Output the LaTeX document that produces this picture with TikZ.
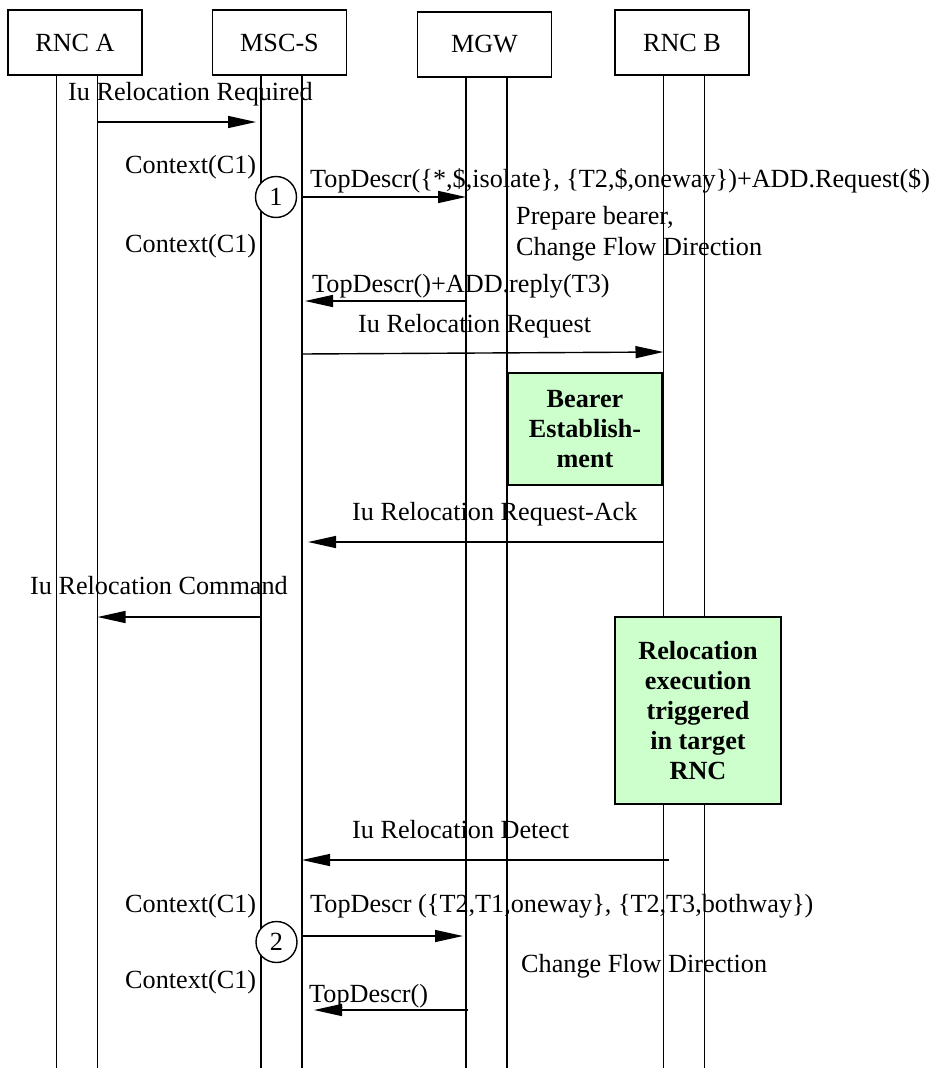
\documentclass[tikz,border=0pt]{standalone}
\usepackage{fontspec}
\setmainfont{Liberation Serif}
\usepackage{tikz}
\usetikzlibrary{arrows.meta, positioning}

\begin{document}
\begin{tikzpicture}[
    x=1pt, y=-1pt,
    font=\fontsize{26.2}{30}\selectfont,
    entity/.style={draw, line width=1.6pt, minimum width=134pt, minimum height=65pt, inner sep=0pt},
    life/.style={line width=1.4pt},
    msg/.style={line width=1.4pt, -{Triangle[length=28pt, width=12pt]}},
    lbl/.style={anchor=base west, inner sep=0pt},
    proc/.style={draw, line width=1.6pt, fill=green!20, align=center, font=\fontsize{26.2}{30}\selectfont\bfseries},
    num/.style={circle, draw, line width=1.4pt, fill=white, minimum size=41pt, inner sep=0pt}
]
\useasboundingbox (0,0) rectangle (932,1068);

% Entities
\node[entity] (rnca) at (75,42.5) {RNC A};
\node[entity] (msc) at (279.5,42.5) {MSC-S};
\node[entity] (mgw) at (484.5,44.5) {MGW};
\node[entity] (rncb) at (682,42.5) {RNC B};

% Lifelines
\foreach \e in {rnca,msc,mgw,rncb} {
    \coordinate (\e L) at ([xshift=-18.5pt]\e.south);
    \coordinate (\e R) at ([xshift=22.5pt]\e.south);
    \draw[life] (\e L) -- (\e L |- 0,1068);
    \draw[life] (\e R) -- (\e R |- 0,1068);
}

% Boxes
\node[proc, minimum width=154pt, minimum height=112pt] (bearer) at (585,429) {Bearer\\Establish-\\ment};
\node[proc, minimum width=166pt, minimum height=187pt] (reloc) at (698,710.5) {Relocation\\execution\\triggered\\in target\\RNC};

% Transaction markers
\node[num] (c1) at (276,197) {1};
\node[num] (c2) at (276.5,942) {2};

% Labels
\node[lbl] (l1) at (68,100) {Iu Relocation Required};
\node[lbl] (cx1) at (125,173) {Context(C1)};
\node[lbl] (l2) at (310,187) {TopDescr(\{*,\$,isolate\}, \{T2,\$,oneway\})+ADD.Request(\$)};
\node[lbl] (pb) at (516,224) {Prepare bearer,};
\node[lbl] (cfd1) at (516,255) {Change Flow Direction};
\node[lbl] (cx2) at (125,252) {Context(C1)};
\node[lbl] (l3) at (312,292) {TopDescr()+ADD.reply(T3)};
\node[lbl] (l4) at (358,332) {Iu Relocation Request};
\node[lbl] (l5) at (352,520) {Iu Relocation Request-Ack};
\node[lbl] (l6) at (30,594) {Iu Relocation Command};
\node[lbl] (l7) at (352,838) {Iu Relocation Detect};
\node[lbl] (cx3) at (125,912) {Context(C1)};
\node[lbl] (l8) at (310,912) {TopDescr (\{T2,T1,oneway\}, \{T2,T3,bothway\})};
\node[lbl] (cfd2) at (521,972) {Change Flow Direction};
\node[lbl] (cx4) at (125,988) {Context(C1)};
\node[lbl] (l9) at (309,1002) {TopDescr()};

% Messages
\draw[msg, shorten >=5pt] (rncaR |- 0,122) -- (mscL |- 0,122);
\draw[msg] (mscR |- 0,197) -- (mgwL |- 0,197);
\draw[msg, shorten >=3pt] (mgwL |- 0,301) -- (mscR |- 0,301);
\draw[msg] (mscR |- 0,354) -- (rncbL |- 0,352);
\draw[msg, shorten >=6pt] (rncbL |- 0,542) -- (mscR |- 0,542);
\draw[msg] (mscL |- 0,617) -- (rncaR |- 0,617);
\draw[msg, shorten <=-5pt] (rncbL |- 0,860) -- (mscR |- 0,860);
\draw[msg, shorten >=3pt] (mscR |- 0,936) -- (mgwL |- 0,936);
\draw[msg, shorten <=-2pt, shorten >=12pt] (mgwL |- 0,1010) -- (mscR |- 0,1010);
\end{tikzpicture}
\end{document}
